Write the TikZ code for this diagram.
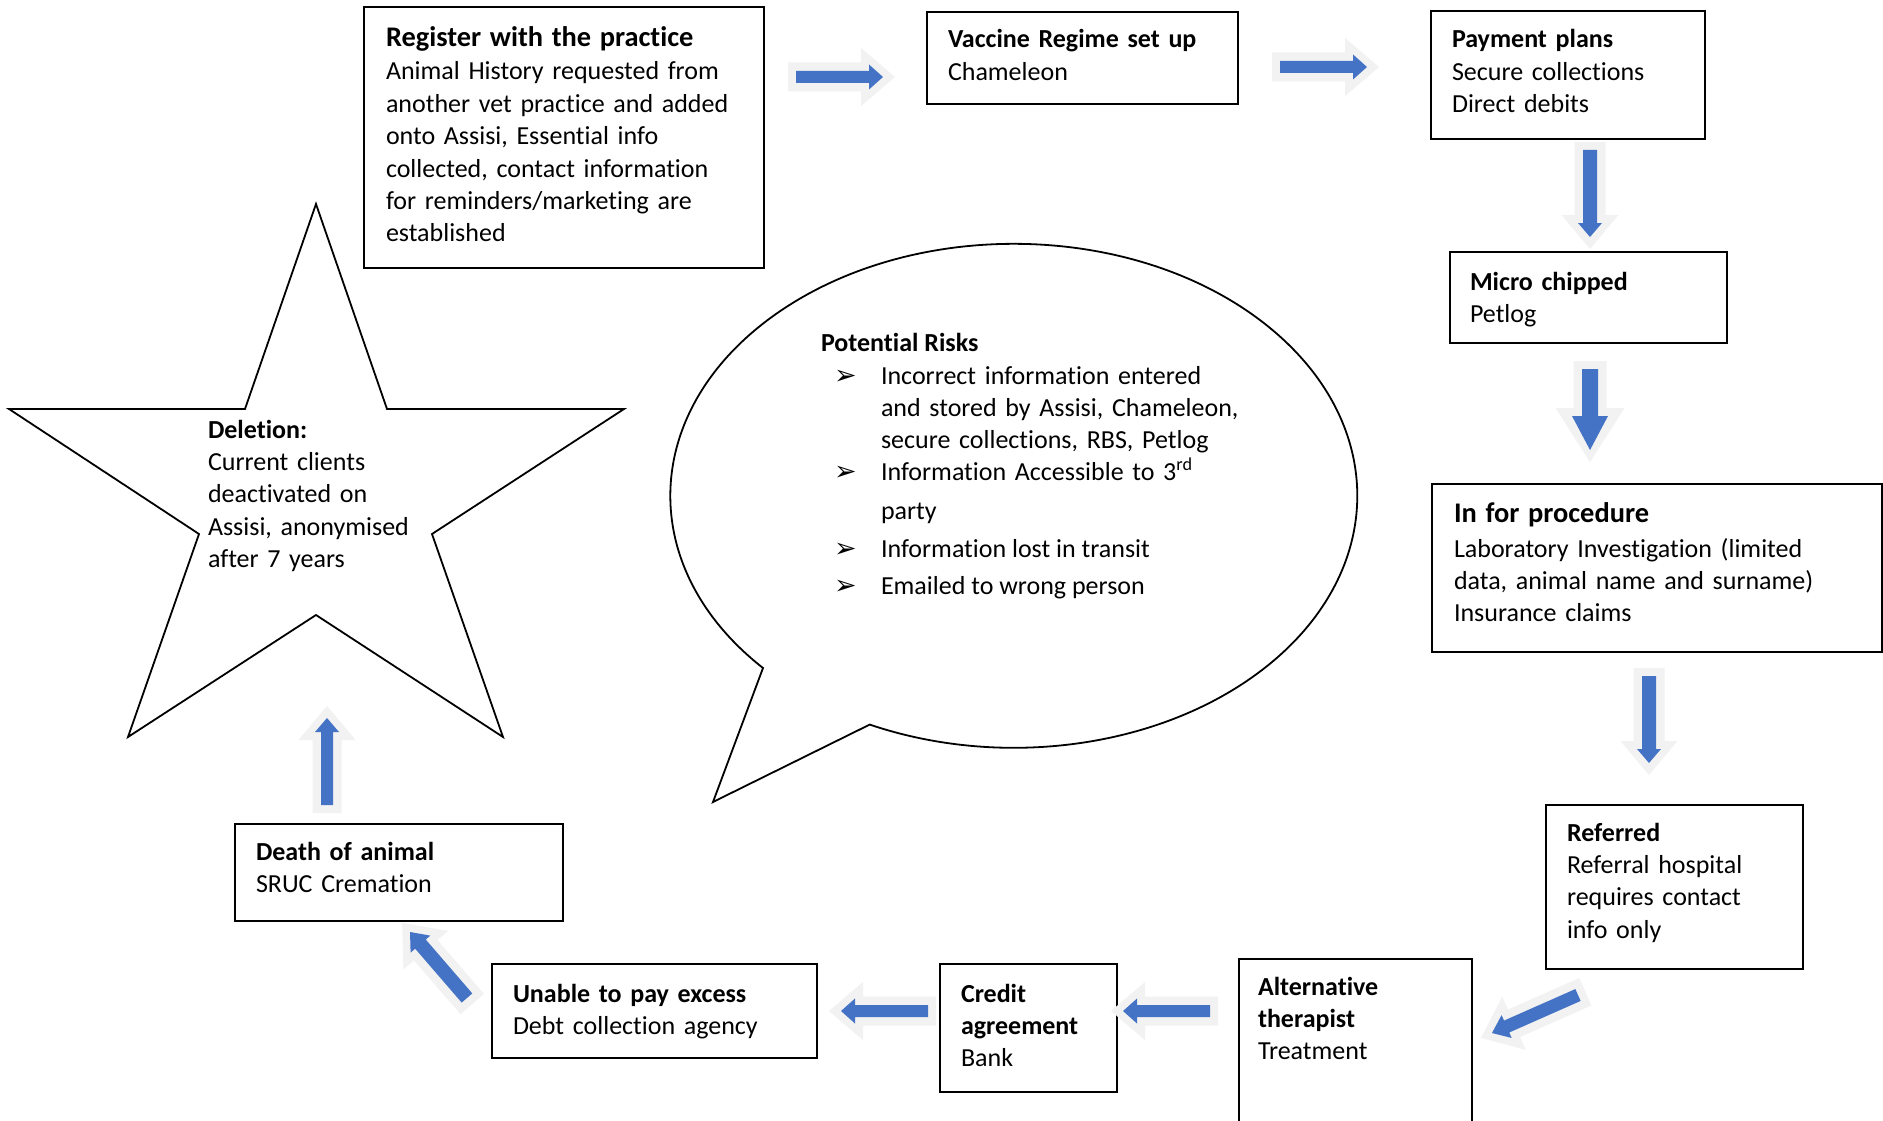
\documentclass[tikz,border=0pt]{standalone}
\usepackage{fontspec}
\setmainfont{Carlito}[Ligatures=CommonOff]
\newfontfamily\dejavu{DejaVu Sans}
\usetikzlibrary{calc}
\definecolor{ablue}{HTML}{4472C4}
\definecolor{agrey}{HTML}{F2F2F2}
\newcommand\bodyfont{\fontsize{26}{32.4}\selectfont}
\newcommand\bigfont{\fontsize{28.4}{32.4}\selectfont}
% block arrow: #1 tail, #2 tip, #3 shaft half width, #4 head half width, #5 head length
\newcommand\blkarrow[5]{%
  \edef\glen{\the\dimexpr#5pt+8pt\relax}%
  \edef\gsh{\the\dimexpr#3pt+8.5pt\relax}%
  \edef\ghd{\the\dimexpr#4pt+16.5pt\relax}%
  \path ($(#1)!-8pt!(#2)$) coordinate (gT)
        ($(#2)!-12pt!(#1)$) coordinate (gP)
        ($(#2)!\glen!(#1)$) coordinate (gH)
        ($(#2)!#5pt!(#1)$) coordinate (bH);
  \fill[agrey] ($(gT)!\gsh!90:(gP)$) -- ($(gH)!\gsh!90:(gP)$) -- ($(gH)!\ghd!90:(gP)$) -- (gP)
     -- ($(gH)!\ghd!-90:(gP)$) -- ($(gH)!\gsh!-90:(gP)$) -- ($(gT)!\gsh!-90:(gP)$) -- cycle;
  \fill[ablue] ($(#1)!#3pt!90:(#2)$) -- ($(bH)!#3pt!90:(#2)$) -- ($(bH)!#4pt!90:(#2)$) -- (#2)
     -- ($(bH)!#4pt!-90:(#2)$) -- ($(bH)!#3pt!-90:(#2)$) -- ($(#1)!#3pt!-90:(#2)$) -- cycle;
}
\begin{document}
\begin{tikzpicture}[x=1pt,y=-1pt,
  box/.style={draw=black, line width=2pt, anchor=north west, inner sep=0pt, outer sep=0pt},
  txt/.style={anchor=base west, inner sep=0pt, outer sep=0pt, align=left, font=\bodyfont},
  bul/.style={anchor=base west, inner sep=0pt, outer sep=0pt, font=\dejavu\fontsize{27}{28}\selectfont},
  shapeline/.style={draw=black, line width=1.8pt, line join=miter}]
\useasboundingbox (0,0) rectangle (1883,1121);
\fill[white] (0,0) rectangle (1883,1121);

% boxes
\node[box, minimum width=400pt, minimum height=261pt] (reg) at (364,7) {};
\node[box, minimum width=311pt, minimum height=92pt] (vac) at (927,12) {};
\node[box, minimum width=274pt, minimum height=128pt] (pay) at (1431,11) {};
\node[box, minimum width=277pt, minimum height=91pt] (mic) at (1450,252) {};
\node[box, minimum width=450pt, minimum height=168pt] (proc) at (1432,484) {};
\node[box, minimum width=257pt, minimum height=164pt] (refd) at (1546,805) {};
\node[box, minimum width=233pt, minimum height=180pt] (alt) at (1239,959) {};
\node[box, minimum width=177pt, minimum height=128pt] (cred) at (940,964) {};
\node[box, minimum width=325pt, minimum height=94pt] (unab) at (492,964) {};
\node[box, minimum width=328pt, minimum height=97pt] (death) at (235,824) {};

% texts
\node[txt, text width=370pt] (treg) at (386,47) {{\bigfont\bfseries Register with the practice}\\[0.6pt]Animal History requested from\\another vet practice and added\\onto Assisi, Essential info\\collected, contact information\\for reminders/marketing are\\established};
\node[txt, text width=280pt] (tvac) at (948,48) {{\bfseries Vaccine Regime set up}\\Chameleon};
\node[txt, text width=250pt] (tpay) at (1452,48) {{\bfseries Payment plans}\\Secure collections\\Direct debits};
\node[txt, text width=250pt] (tmic) at (1470,290) {{\bfseries Micro chipped}\\Petlog};
\node[txt, text width=420pt] (tproc) at (1454,522) {{\bigfont\bfseries In for procedure}\\[2.6pt]Laboratory Investigation (limited\\data, animal name and surname)\\Insurance claims};
\node[txt, text width=230pt] (tref) at (1567,841) {{\bfseries Referred}\\Referral hospital\\requires contact\\info only};
\node[txt, text width=210pt] (talt) at (1258,995) {{\bfseries Alternative}\\{\bfseries therapist}\\Treatment};
\node[txt, text width=155pt] (tcred) at (961,1002) {{\bfseries Credit}\\{\bfseries agreement}\\Bank};
\node[txt, text width=300pt] (tunab) at (513,1002) {{\bfseries Unable to pay excess}\\Debt collection agency};
\node[txt, text width=300pt] (tdeath) at (256,860) {{\bfseries Death of animal}\\SRUC Cremation};

% star
\draw[shapeline] (316,204) -- (387,409) -- (624,409) -- (432,534) -- (503,737) -- (316,615)
  -- (128,737) -- (199,534) -- (9,409) -- (245,409) -- cycle;
\node[txt, text width=210pt] (tdel) at (208,438) {{\bfseries Deletion:}\\Current clients\\deactivated on\\Assisi, anonymised\\after 7 years};

% callout
\draw[shapeline] (763,668) arc[start angle=136.9, end angle=474.8, x radius=343.5, y radius=252] -- (713,802) -- cycle;
\node[txt] (riskh) at (821,351) {\bfseries Potential Risks};
\node[bul] (b1) at (834,384) {➢};
\node[bul] (b2) at (834,480) {➢};
\node[bul] (b3) at (834,557) {➢};
\node[bul] (b4) at (834,594) {➢};
\node[txt, text width=420pt] (r1) at (881,384) {Incorrect information entered\\and stored by Assisi, Chameleon,\\secure collections, RBS, Petlog};
\node[txt, text width=420pt] (r2) at (881,480) {Information Accessible to 3\textsuperscript{rd}\\[6.6pt]party};
\node[txt] (r3) at (881,557) {Information lost in transit};
\node[txt] (r4) at (881,594) {Emailed to wrong person};

% arrow end points
\coordinate (a1s) at (796,77);   \coordinate (a1e) at (883,77);
\coordinate (a2s) at (1280,67);  \coordinate (a2e) at (1367,67);
\coordinate (a3s) at (1590,150); \coordinate (a3e) at (1590,237);
\coordinate (a4s) at (1590,369); \coordinate (a4e) at (1590,450);
\coordinate (a5s) at (1649,676); \coordinate (a5e) at (1649,763);
\coordinate (a6s) at (1578,995); \coordinate (a6e) at (1492,1033);
\coordinate (a7s) at (1210,1011); \coordinate (a7e) at (1123,1011);
\coordinate (a8s) at (928,1011); \coordinate (a8e) at (841,1011);
\coordinate (a9s) at (467,998);  \coordinate (a9e) at (410,932);
\coordinate (a10s) at (327,805); \coordinate (a10e) at (327,718);

\blkarrow{a1s}{a1e}{6}{12.5}{14}
\blkarrow{a2s}{a2e}{6}{12.5}{14}
\blkarrow{a3s}{a3e}{7}{12}{14}
\blkarrow{a4s}{a4e}{8}{18}{34}
\blkarrow{a5s}{a5e}{7}{12}{14}
\blkarrow{a6s}{a6e}{6.5}{12.5}{16}
\blkarrow{a7s}{a7e}{6}{12.5}{14}
\blkarrow{a8s}{a8e}{6}{12.5}{14}
\blkarrow{a9s}{a9e}{7}{13}{16}
\blkarrow{a10s}{a10e}{6}{12}{14}
\end{tikzpicture}
\end{document}
